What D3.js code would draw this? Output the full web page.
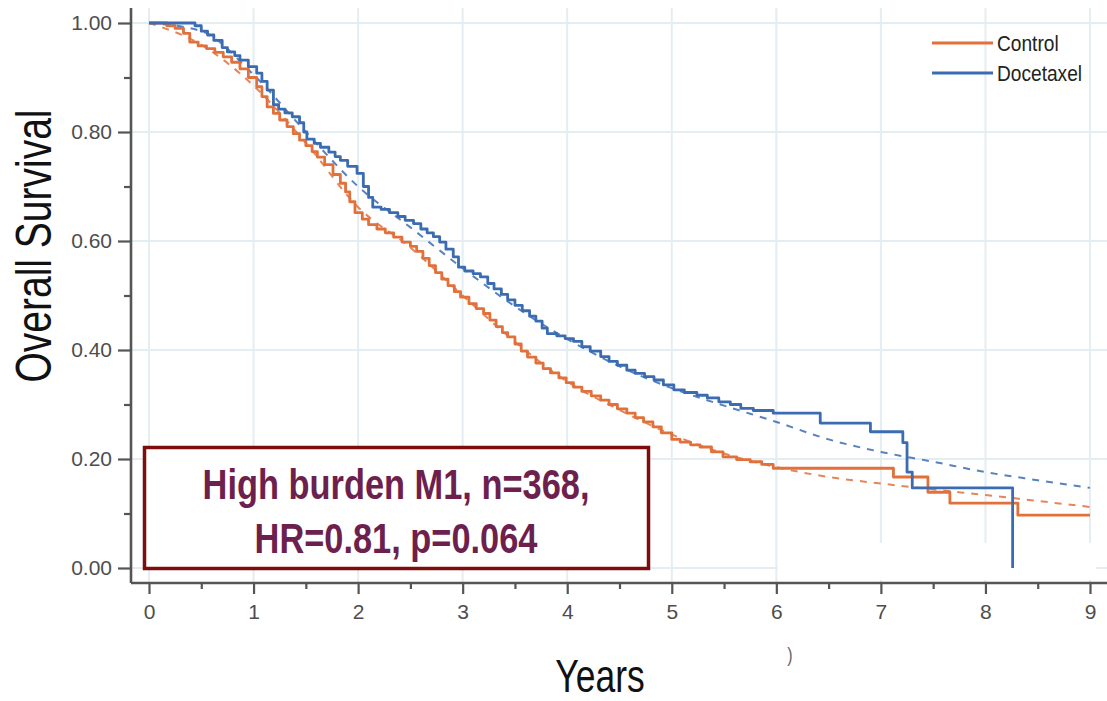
<!DOCTYPE html>
<html>
<head>
<meta charset="utf-8">
<script src="https://cdn.jsdelivr.net/npm/d3@7"></script>
<style>
  body { margin: 0; background: #fff; }
  svg { display: block; font-family: "Liberation Sans", Arial, sans-serif; }
</style>
</head>
<body>
<svg id="chart" width="1107" height="701"></svg>
<script>
// Kaplan-Meier steps (years, survival)
const controlYears = [0, 0.17, 0.25, 0.33, 0.39, 0.47, 0.55, 0.63, 0.71, 0.79, 0.87, 0.95, 1.03, 1.08, 1.13, 1.19, 1.25, 1.32, 1.38, 1.44, 1.50, 1.56, 1.61, 1.68, 1.76, 1.83, 1.88, 1.92, 1.97, 2.04, 2.10, 2.18, 2.26, 2.34, 2.42, 2.50, 2.56, 2.62, 2.68, 2.74, 2.80, 2.86, 2.92, 2.98, 3.06, 3.13, 3.20, 3.26, 3.32, 3.38, 3.43, 3.50, 3.56, 3.62, 3.70, 3.77, 3.84, 3.92, 3.99, 4.06, 4.14, 4.23, 4.32, 4.40, 4.48, 4.57, 4.65, 4.73, 4.82, 4.90, 5.00, 5.08, 5.18, 5.27, 5.38, 5.49, 5.62, 5.75, 5.86, 5.97, 7.12, 7.45, 7.66, 8.31, 9.00];
const controlSurv = [1.000, 0.995, 0.990, 0.981, 0.965, 0.958, 0.953, 0.946, 0.938, 0.928, 0.916, 0.900, 0.883, 0.865, 0.846, 0.834, 0.822, 0.810, 0.797, 0.785, 0.775, 0.764, 0.754, 0.740, 0.722, 0.706, 0.690, 0.672, 0.652, 0.640, 0.630, 0.622, 0.615, 0.607, 0.598, 0.590, 0.581, 0.568, 0.555, 0.542, 0.530, 0.518, 0.507, 0.497, 0.485, 0.476, 0.467, 0.455, 0.443, 0.432, 0.424, 0.411, 0.398, 0.387, 0.376, 0.366, 0.358, 0.349, 0.340, 0.332, 0.324, 0.316, 0.308, 0.300, 0.292, 0.284, 0.276, 0.268, 0.259, 0.248, 0.236, 0.231, 0.226, 0.222, 0.213, 0.204, 0.199, 0.195, 0.190, 0.183, 0.167, 0.139, 0.119, 0.097, 0.097];

const docetaxelYears = [0, 0.44, 0.50, 0.56, 0.62, 0.70, 0.75, 0.82, 0.87, 0.95, 1.03, 1.08, 1.13, 1.19, 1.24, 1.30, 1.37, 1.44, 1.48, 1.51, 1.58, 1.64, 1.72, 1.78, 1.83, 1.90, 1.99, 2.05, 2.10, 2.14, 2.22, 2.30, 2.38, 2.45, 2.53, 2.60, 2.66, 2.72, 2.78, 2.84, 2.91, 2.96, 3.02, 3.10, 3.17, 3.24, 3.30, 3.37, 3.43, 3.50, 3.57, 3.64, 3.70, 3.76, 3.81, 3.90, 3.98, 4.06, 4.14, 4.22, 4.32, 4.40, 4.48, 4.57, 4.65, 4.74, 4.83, 4.92, 5.02, 5.12, 5.24, 5.34, 5.45, 5.56, 5.66, 5.78, 5.97, 6.42, 6.90, 7.21, 7.25, 7.30, 8.26];
const docetaxelSurv = [1.000, 0.995, 0.985, 0.978, 0.968, 0.955, 0.947, 0.940, 0.932, 0.920, 0.908, 0.893, 0.877, 0.850, 0.842, 0.835, 0.828, 0.817, 0.800, 0.787, 0.779, 0.772, 0.763, 0.755, 0.748, 0.737, 0.724, 0.700, 0.680, 0.662, 0.658, 0.652, 0.645, 0.638, 0.632, 0.622, 0.615, 0.608, 0.598, 0.585, 0.571, 0.552, 0.545, 0.540, 0.534, 0.522, 0.512, 0.502, 0.492, 0.482, 0.472, 0.462, 0.453, 0.440, 0.430, 0.426, 0.421, 0.416, 0.406, 0.398, 0.388, 0.379, 0.372, 0.363, 0.357, 0.351, 0.345, 0.336, 0.327, 0.322, 0.317, 0.312, 0.305, 0.300, 0.293, 0.289, 0.284, 0.266, 0.250, 0.230, 0.176, 0.147, 0.000];

// fitted (dashed) curves
const fitYears = [0, 0.5, 1, 1.5, 2, 2.5, 3, 3.5, 4, 4.5, 5, 5.5, 6, 6.5, 7, 7.5, 8, 8.5, 9];
const controlFit = [1.0, 0.96, 0.885, 0.78, 0.662, 0.588, 0.50, 0.415, 0.342, 0.29, 0.245, 0.21, 0.185, 0.167, 0.155, 0.144, 0.134, 0.123, 0.112];
const docetaxelFit = [1.0, 0.985, 0.905, 0.80, 0.70, 0.625, 0.55, 0.48, 0.42, 0.37, 0.33, 0.298, 0.268, 0.236, 0.213, 0.195, 0.176, 0.161, 0.147];

const yearTicks = [0, 1, 2, 3, 4, 5, 6, 7, 8, 9];
const survTicks = [0, 0.2, 0.4, 0.6, 0.8, 1.0];

const series = [
  { name: "Control", years: controlYears, surv: controlSurv, fit: controlFit, color: "#e2703a" },
  { name: "Docetaxel", years: docetaxelYears, surv: docetaxelSurv, fit: docetaxelFit, color: "#3b6cb2" }
];

const svg = d3.select("#chart");
const font = "'Liberation Sans', Arial, sans-serif";

const x = d3.scaleLinear().domain([0, 9]).range([149, 1090]);
const y = d3.scaleLinear().domain([0, 1]).range([568, 23]);
const axisX = 131, axisY = 583;

// gridlines
const grid = svg.append("g").attr("stroke", "#e4edf1").attr("stroke-width", 2);
grid.selectAll("line.v").data(yearTicks).join("line")
  .attr("x1", d => x(d)).attr("x2", d => x(d))
  .attr("y1", 8).attr("y2", axisY);
grid.selectAll("line.h").data(survTicks).join("line")
  .attr("x1", axisX).attr("x2", 1107)
  .attr("y1", d => y(d)).attr("y2", d => y(d));

// white patch in lower right of the original
svg.append("rect").attr("x", 778).attr("y", 543).attr("width", 318).attr("height", 37).attr("fill", "#fff");

// fitted curves (dashed)
const fitLine = d3.line().curve(d3.curveMonotoneX);
series.forEach(s => {
  svg.append("path")
    .attr("d", fitLine(fitYears.map((t, i) => [x(t), y(s.fit[i])])))
    .attr("fill", "none")
    .attr("stroke", s.color)
    .attr("stroke-width", 2)
    .attr("stroke-dasharray", "7,7")
    .attr("opacity", 0.85);
});

// KM step curves
const stepLine = d3.line().curve(d3.curveStepAfter);
series.forEach(s => {
  svg.append("path")
    .attr("d", stepLine(s.years.map((t, i) => [x(t), y(s.surv[i])])))
    .attr("fill", "none")
    .attr("stroke", s.color)
    .attr("stroke-width", 2.8)
    .attr("stroke-linejoin", "round");
});

// axes
const yAxis = svg.append("g").attr("transform", `translate(${axisX},0)`)
  .call(d3.axisLeft(y).tickValues(survTicks).tickFormat(d3.format(".2f")).tickSize(13).tickPadding(6));
const yMinor = svg.append("g").attr("transform", `translate(${axisX},0)`)
  .call(d3.axisLeft(y).tickValues([0.1, 0.3, 0.5, 0.7, 0.9]).tickFormat("").tickSize(7));
const xAxis = svg.append("g").attr("transform", `translate(0,${axisY})`)
  .call(d3.axisBottom(x).tickValues(yearTicks).tickFormat(d3.format("d")).tickSize(11).tickPadding(10));
const xMinor = svg.append("g").attr("transform", `translate(0,${axisY})`)
  .call(d3.axisBottom(x).tickValues(d3.range(0.5, 9, 1)).tickFormat("").tickSize(6));

[yAxis, yMinor, xAxis, xMinor].forEach(g => {
  g.select(".domain").remove();
  g.selectAll(".tick line").attr("stroke", "#555").attr("stroke-width", 2.2);
  g.selectAll(".tick text").attr("fill", "#4d4d4d").style("font-family", font).style("font-size", "21px");
});
svg.append("line").attr("x1", axisX).attr("x2", axisX).attr("y1", 8).attr("y2", axisY)
  .attr("stroke", "#555").attr("stroke-width", 2.6);
svg.append("line").attr("x1", axisX).attr("x2", 1107).attr("y1", axisY).attr("y2", axisY)
  .attr("stroke", "#555").attr("stroke-width", 2.6);

// axis titles
svg.append("text")
  .attr("transform", "translate(51,246) rotate(-90) scale(0.78,1)")
  .attr("text-anchor", "middle")
  .style("font-family", font).style("font-size", "50px").attr("fill", "#111")
  .text("Overall Survival");
svg.append("text")
  .attr("transform", "translate(600,692) scale(0.77,1)")
  .attr("text-anchor", "middle")
  .style("font-family", font).style("font-size", "46px").attr("fill", "#111")
  .text("Years");
svg.append("text")
  .attr("transform", "translate(790,662) scale(0.8,1)")
  .attr("text-anchor", "middle")
  .style("font-family", font).style("font-size", "20px").attr("fill", "#666")
  .text(")");

// legend
const legend = svg.append("g");
series.forEach((s, i) => {
  const ly = 43 + i * 30;
  legend.append("line").attr("x1", 932).attr("x2", 993).attr("y1", ly).attr("y2", ly)
    .attr("stroke", s.color).attr("stroke-width", 3);
  legend.append("text")
    .attr("transform", `translate(997,${ly + 8}) scale(0.87,1)`)
    .style("font-family", font).style("font-size", "22px").attr("fill", "#222")
    .text(s.name);
});

// annotation box
const box = svg.append("g");
box.append("rect").attr("x", 144.5).attr("y", 447.5).attr("width", 504).attr("height", 121)
  .attr("fill", "#fff").attr("stroke", "#7d0c0c").attr("stroke-width", 3.5);
const boxLines = ["High burden M1, n=368,", "HR=0.81, p=0.064"];
boxLines.forEach((t, i) => {
  box.append("text")
    .attr("transform", `translate(396,${499 + i * 54}) scale(0.8,1)`)
    .attr("text-anchor", "middle")
    .style("font-family", font).style("font-size", "43px").style("font-weight", "bold")
    .attr("fill", "#6d1f4e")
    .text(t);
});
</script>
</body>
</html>
